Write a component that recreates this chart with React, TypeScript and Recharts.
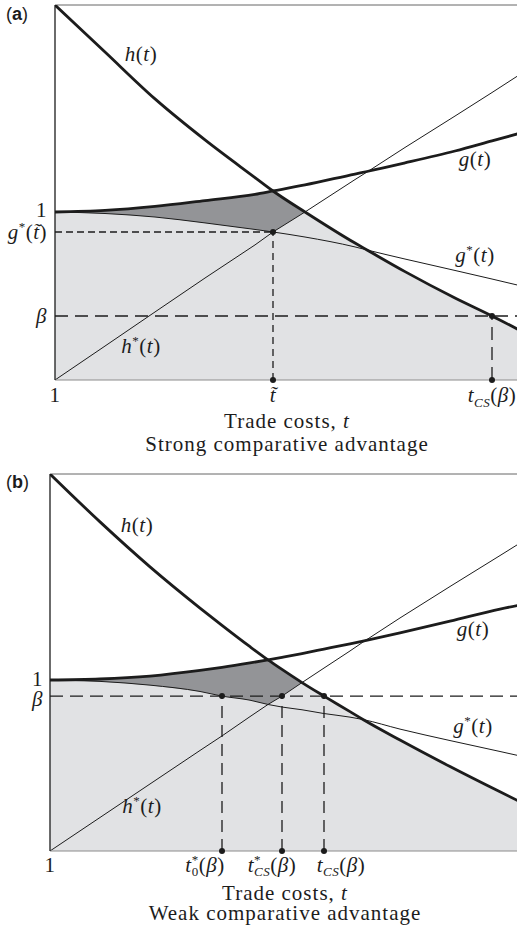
import React from 'react';
import {
  ComposedChart,
  Area,
  Line,
  XAxis,
  YAxis,
  ReferenceLine,
  ReferenceDot,
} from 'recharts';

const SERIF = '"Liberation Serif", "Times New Roman", serif';
const SANS = '"Liberation Sans", Arial, sans-serif';
const INK = '#1c1c1c';
const LIGHT = '#e1e2e4';
const DARK = '#939497';
const FS = 21;
const SS = 13;

// (a) strong comparative advantage
const tA = [1, 1.25, 1.5, 1.75, 2, 2.09, 2.25, 2.5, 2.56, 2.75, 3, 3.185, 3.32];
const hA = [2.232, 1.952, 1.673, 1.429, 1.205, 1.125, 1.0, 0.815, 0.774, 0.645, 0.488, 0.381, 0.298];
const gA = [1.0, 1.009, 1.033, 1.068, 1.105, 1.125, 1.161, 1.226, 1.241, 1.292, 1.363, 1.423, 1.467];
const gStarA = [1.0, 0.991, 0.97, 0.935, 0.896, 0.881, 0.851, 0.792, 0.774, 0.72, 0.652, 0.601, 0.563];
const hStarA = [0, 0.202, 0.405, 0.607, 0.804, 0.881, 1.0, 1.193, 1.238, 1.384, 1.571, 1.711, 1.815];
const betaA = 0.381;
const tTildeA = 2.09;
const gTildeA = 0.881;
const tCsA = 3.185;
const topA = 2.232;
const tMaxA = 3.32;

// (b) weak comparative advantage
const tB = [1, 1.25, 1.5, 1.75, 1.86, 2, 2.09, 2.16, 2.26, 2.37, 2.5, 2.565, 2.75, 3, 3.25, 3.35];
const hB = [2.205, 1.925, 1.662, 1.421, 1.32, 1.195, 1.118, 1.062, 0.985, 0.906, 0.815, 0.769, 0.649, 0.494, 0.346, 0.288];
const gB = [1.0, 1.006, 1.023, 1.056, 1.074, 1.1, 1.118, 1.133, 1.155, 1.181, 1.212, 1.228, 1.276, 1.344, 1.415, 1.439];
const gStarB = [1.0, 0.992, 0.97, 0.933, 0.906, 0.882, 0.857, 0.842, 0.826, 0.804, 0.783, 0.769, 0.713, 0.646, 0.582, 0.556];
const hStarB = [0, 0.196, 0.392, 0.588, 0.673, 0.786, 0.857, 0.906, 0.985, 1.07, 1.17, 1.222, 1.363, 1.547, 1.728, 1.801];
const betaB = 0.906;
const t0B = 1.86;
const tCsStarB = 2.16;
const tCsB = 2.37;
const topB = 2.205;
const tMaxB = 3.35;

// light region: under g* / h* but never above h; dark region: between max(g*, h*) and min(g, h)
function buildRows(t: number[], h: number[], g: number[], gs: number[], hs: number[]) {
  return t.map((tv, i) => {
    const lo = Math.max(gs[i], hs[i]);
    const hi = Math.min(g[i], h[i]);
    return {
      t: tv,
      h: h[i],
      g: g[i],
      gs: gs[i],
      hs: hs[i],
      light: [0, Math.min(h[i], lo)],
      dark: hi >= lo - 1e-9 ? [lo, hi] : null,
    };
  });
}

const rowsA = buildRows(tA, hA, gA, gStarA, hStarA);
const rowsB = buildRows(tB, hB, gB, gStarB, hStarB);

const txt = { fontFamily: SERIF, fontSize: FS, fill: INK, letterSpacing: 0.5 };
const title = { fontFamily: SERIF, fontSize: FS, fill: INK, letterSpacing: 1 };

function CurveName({ x, y, name, star }: { x: number; y: number; name: string; star?: boolean }) {
  return (
    <text x={x} y={y} textAnchor="middle" {...txt}>
      <tspan fontStyle="italic">{name}</tspan>
      {star ? <tspan fontSize={SS} dy={-8}>*</tspan> : null}
      <tspan dy={star ? 8 : 0}>(</tspan>
      <tspan fontStyle="italic">t</tspan>
      <tspan>)</tspan>
    </text>
  );
}

const nameAt = (name: string, star?: boolean) => (p: any) =>
  <CurveName x={p.cx} y={p.cy} name={name} star={star} />;

function AxisTitle({ viewBox, line2, d1, d2 }: any) {
  const cx = viewBox.x + viewBox.width / 2;
  return (
    <g>
      <text x={cx} y={viewBox.y + d1} textAnchor="middle" {...title}>
        Trade costs, <tspan fontStyle="italic">t</tspan>
      </text>
      <text x={cx} y={viewBox.y + d2} textAnchor="middle" {...title}>
        {line2}
      </text>
    </g>
  );
}

const tickA = (p: any) => {
  const v = p.payload.value;
  const y = p.y + 22;
  if (v === tTildeA) {
    return (
      <text x={p.x} y={y} textAnchor="middle" {...txt} fontStyle="italic">
        {'t\u0303'}
      </text>
    );
  }
  if (v === tCsA) {
    return (
      <text x={p.x} y={y} textAnchor="middle" {...txt}>
        <tspan fontStyle="italic">t</tspan>
        <tspan fontStyle="italic" fontSize={SS} dy={5}>CS</tspan>
        <tspan dy={-5}>(</tspan>
        <tspan fontStyle="italic">β</tspan>
        <tspan>)</tspan>
      </text>
    );
  }
  return (
    <text x={p.x} y={y} textAnchor="middle" {...txt}>
      1
    </text>
  );
};

const yTickA = (p: any) => {
  const v = p.payload.value;
  const x = p.x - 8;
  if (v === gTildeA) {
    return (
      <text x={x} y={p.y + 7} textAnchor="end" {...txt}>
        <tspan fontStyle="italic">g</tspan>
        <tspan fontSize={SS} dy={-8}>*</tspan>
        <tspan dy={8}>(</tspan>
        <tspan fontStyle="italic">{'t\u0303'}</tspan>
        <tspan>)</tspan>
      </text>
    );
  }
  const isBeta = v === betaA;
  return (
    <text x={x} y={p.y + (isBeta ? 7 : 5)} textAnchor="end" {...txt} fontStyle={isBeta ? 'italic' : 'normal'}>
      {isBeta ? 'β' : '1'}
    </text>
  );
};

const tickB = (p: any) => {
  const v = p.payload.value;
  const y = p.y + 21;
  if (v === t0B) {
    return (
      <text x={p.x - 17} y={y} textAnchor="middle" {...txt}>
        <tspan fontStyle="italic">t</tspan>
        <tspan fontSize={SS} dy={-8}>*</tspan>
        <tspan fontSize={SS} dx={-7} dy={12}>0</tspan>
        <tspan dy={-4}>(</tspan>
        <tspan fontStyle="italic">β</tspan>
        <tspan>)</tspan>
      </text>
    );
  }
  if (v === tCsStarB) {
    return (
      <text x={p.x - 10} y={y} textAnchor="middle" {...txt}>
        <tspan fontStyle="italic">t</tspan>
        <tspan fontSize={SS} dy={-8}>*</tspan>
        <tspan fontStyle="italic" fontSize={SS} dx={-7} dy={12}>CS</tspan>
        <tspan dy={-4}>(</tspan>
        <tspan fontStyle="italic">β</tspan>
        <tspan>)</tspan>
      </text>
    );
  }
  if (v === tCsB) {
    return (
      <text x={p.x + 17} y={y} textAnchor="middle" {...txt}>
        <tspan fontStyle="italic">t</tspan>
        <tspan fontStyle="italic" fontSize={SS} dy={4}>CS</tspan>
        <tspan dy={-4}>(</tspan>
        <tspan fontStyle="italic">β</tspan>
        <tspan>)</tspan>
      </text>
    );
  }
  return (
    <text x={p.x} y={y} textAnchor="middle" {...txt}>
      1
    </text>
  );
};

const yTickB = (p: any) => {
  const v = p.payload.value;
  const isBeta = v === betaB;
  return (
    <text x={p.x - 7} y={p.y + (isBeta ? 10 : 6)} textAnchor="end" {...txt} fontStyle={isBeta ? 'italic' : 'normal'}>
      {isBeta ? 'β' : '1'}
    </text>
  );
};

const thick = { stroke: INK, strokeWidth: 2.8, dot: false, isAnimationActive: false };
const thin = { stroke: INK, strokeWidth: 1, dot: false, isAnimationActive: false };
const dash = { stroke: INK, strokeWidth: 1.3, ifOverflow: 'visible' as const };
const dot = { r: 3, fill: INK, stroke: 'none', ifOverflow: 'visible' as const };
const hidden = { r: 0, ifOverflow: 'visible' as const };

function PanelA() {
  return (
    <ComposedChart width={530} height={460} data={rowsA} margin={{ top: 5, right: 11, left: 0, bottom: 0 }}>
      <XAxis
        type="number"
        dataKey="t"
        domain={[1, tMaxA]}
        allowDataOverflow
        ticks={[1, tTildeA, tCsA]}
        interval={0}
        tick={tickA}
        tickLine={false}
        tickSize={0}
        tickMargin={0}
        height={80}
        axisLine={{ stroke: '#8c8c8c' }}
        label={<AxisTitle line2="Strong comparative advantage" d1={48} d2={71} />}
      />
      <YAxis
        type="number"
        domain={[0, topA]}
        allowDataOverflow
        ticks={[betaA, gTildeA, 1]}
        interval={0}
        tick={yTickA}
        tickLine={false}
        tickSize={0}
        tickMargin={0}
        width={55}
        axisLine={{ stroke: INK, strokeWidth: 1.3 }}
      />
      <Area dataKey="light" type="linear" fill={LIGHT} fillOpacity={1} stroke="none" isAnimationActive={false} />
      <Area dataKey="dark" type="linear" fill={DARK} fillOpacity={1} stroke="none" isAnimationActive={false} />
      <ReferenceLine y={topA} stroke="#666" ifOverflow="visible" />
      <ReferenceLine segment={[{ x: 1, y: gTildeA }, { x: tTildeA, y: gTildeA }]} strokeDasharray="7 4" {...dash} />
      <ReferenceLine segment={[{ x: tTildeA, y: 0 }, { x: tTildeA, y: gTildeA }]} strokeDasharray="7 5" {...dash} />
      <ReferenceLine y={betaA} strokeDasharray="13 7" {...dash} />
      <ReferenceLine segment={[{ x: tCsA, y: 0 }, { x: tCsA, y: betaA }]} strokeDasharray="13 7" {...dash} />
      <Line dataKey="hs" type="linear" {...thin} />
      <Line dataKey="gs" type="monotone" {...thin} />
      <Line dataKey="h" type="monotone" {...thick} />
      <Line dataKey="g" type="monotone" {...thick} />
      <ReferenceDot x={tTildeA} y={gTildeA} {...dot} />
      <ReferenceDot x={tTildeA} y={0} {...dot} />
      <ReferenceDot x={tCsA} y={betaA} {...dot} />
      <ReferenceDot x={tCsA} y={0} {...dot} />
      <ReferenceDot x={1.43} y={1.899} {...hidden} shape={nameAt('h')} />
      <ReferenceDot x={3.1} y={1.274} {...hidden} shape={nameAt('g')} />
      <ReferenceDot x={3.1} y={0.702} {...hidden} shape={nameAt('g', true)} />
      <ReferenceDot x={1.43} y={0.161} {...hidden} shape={nameAt('h', true)} />
    </ComposedChart>
  );
}

function PanelB() {
  return (
    <ComposedChart width={530} height={470} data={rowsB} margin={{ top: 4, right: 10, left: 0, bottom: 0 }}>
      <XAxis
        type="number"
        dataKey="t"
        domain={[1, tMaxB]}
        allowDataOverflow
        ticks={[1, t0B, tCsStarB, tCsB]}
        interval={0}
        tick={tickB}
        tickLine={false}
        tickSize={0}
        tickMargin={0}
        height={89}
        axisLine={{ stroke: '#8c8c8c' }}
        label={<AxisTitle line2="Weak comparative advantage" d1={49} d2={69} />}
      />
      <YAxis
        type="number"
        domain={[0, topB]}
        allowDataOverflow
        ticks={[betaB, 1]}
        interval={0}
        tick={yTickB}
        tickLine={false}
        tickSize={0}
        tickMargin={0}
        width={50}
        axisLine={{ stroke: INK, strokeWidth: 1.3 }}
      />
      <Area dataKey="light" type="linear" fill={LIGHT} fillOpacity={1} stroke="none" isAnimationActive={false} />
      <Area dataKey="dark" type="linear" fill={DARK} fillOpacity={1} stroke="none" isAnimationActive={false} />
      <ReferenceLine y={topB} stroke="#666" ifOverflow="visible" />
      <ReferenceLine y={betaB} strokeDasharray="13 7" {...dash} />
      <ReferenceLine segment={[{ x: t0B, y: 0 }, { x: t0B, y: betaB }]} strokeDasharray="12 7" {...dash} />
      <ReferenceLine segment={[{ x: tCsStarB, y: 0 }, { x: tCsStarB, y: betaB }]} strokeDasharray="12 7" {...dash} />
      <ReferenceLine segment={[{ x: tCsB, y: 0 }, { x: tCsB, y: betaB }]} strokeDasharray="12 7" {...dash} />
      <Line dataKey="hs" type="linear" {...thin} />
      <Line dataKey="gs" type="monotone" {...thin} />
      <Line dataKey="h" type="monotone" {...thick} />
      <Line dataKey="g" type="monotone" {...thick} />
      {[t0B, tCsStarB, tCsB].map((t) => (
        <React.Fragment key={t}>
          <ReferenceDot x={t} y={betaB} {...dot} />
          <ReferenceDot x={t} y={0} {...dot} />
        </React.Fragment>
      ))}
      <ReferenceDot x={1.435} y={1.865} {...hidden} shape={nameAt('h')} />
      <ReferenceDot x={3.115} y={1.257} {...hidden} shape={nameAt('g')} />
      <ReferenceDot x={3.115} y={0.69} {...hidden} shape={nameAt('g', true)} />
      <ReferenceDot x={1.46} y={0.222} {...hidden} shape={nameAt('h', true)} />
    </ComposedChart>
  );
}

const panelTag = { position: 'absolute' as const, left: 6, fontFamily: SANS, fontSize: 18, lineHeight: '18px', color: INK };

export default function App() {
  return (
    <div style={{ position: 'absolute', left: 0, top: 0, width: 517, height: 931, overflow: 'hidden', background: '#fff' }}>
      <div style={{ position: 'absolute', left: 0, top: 0 }}>
        <PanelA />
      </div>
      <div style={{ position: 'absolute', left: 0, top: 470 }}>
        <PanelB />
      </div>
      <div style={{ ...panelTag, top: 5 }}>
        (<b>a</b>)
      </div>
      <div style={{ ...panelTag, top: 473 }}>
        (<b>b</b>)
      </div>
    </div>
  );
}
